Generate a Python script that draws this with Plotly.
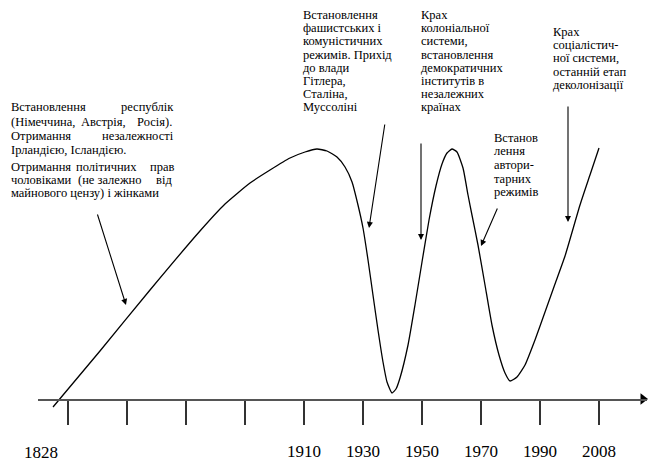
import plotly.graph_objects as go

# ---------------- data ----------------
tick_positions = [0, 1, 2, 3, 4, 5, 6, 7, 8, 9]
tick_labels = ["", "", "", "", "1910", "1930", "1950", "1970", "1990", "2008"]
start_label = "1828"

# curve: x in tick units along the time axis, y = "level" (axis = 0, peaks = 250)
curve_x = [-0.254, 0.542, 1.390, 2.237, 2.661, 3.085, 3.424, 3.763,
           4.017, 4.220, 4.390, 4.559, 4.695, 4.814, 4.915, 5.000, 5.085, 5.169,
           5.254, 5.339, 5.407, 5.492, 5.559, 5.627, 5.763, 5.881, 6.000, 6.119,
           6.237, 6.339, 6.424, 6.508, 6.593, 6.695, 6.780, 6.847, 6.949, 7.068,
           7.186, 7.305, 7.407, 7.492, 7.610, 7.746, 7.915, 8.085, 8.254, 8.424,
           8.678, 8.847, 9.000]
curve_y = [-8, 48, 109, 168, 195, 216, 229, 241,
           247, 250, 248, 242, 232, 217, 194, 171, 139, 104,
           69, 37, 17, 6, 10, 21, 54, 94, 137, 179,
           213, 235, 246, 250, 247, 231, 204, 184, 154, 114,
           74, 44, 26, 18, 22, 34, 59, 87, 115, 143,
           194, 224, 251]

block_fascism = ["Встановлення", "фашистських і", "комуністичних", "режимів. Прихід",
                 "до влади", "Гітлера,", "Сталіна,", "Муссоліні"]
block_colonial = ["Крах", "колоніальної", "системи,", "встановлення", "демократичних",
                  "інститутів в", "незалежних", "країнах"]
block_social = ["Крах", "соціалістич-", "ної системи,", "останній етап", "деколонізації"]
block_author = ["Встанов", "лення", "автори-", "тарних", "режимів"]
# justified left paragraph: (word group, pixel x, anchor)
block_left = [
    [("Встановлення", 10, "left"), ("республік", 175, "right")],
    [("(Німеччина,", 10, "left"), ("Австрія,", 103, "center"), ("Росія).", 173, "right")],
    [("Отримання", 10, "left"), ("незалежності", 175, "right")],
    [("Ірландією, Ісландією.", 10, "left")],
    [("Отримання", 10, "left"), ("політичних", 106, "center"), ("прав", 175, "right")],
    [("чоловіками", 10, "left"), ("(не залежно", 109, "center"), ("від", 173, "right")],
    [("майнового цензу) і жінками", 10, "left")],
]

# ---------------- layout helpers (pixel -> data / paper) ----------------
W, H = 649, 464
X0PX, DXPX = 68, 59          # pixel of first tick, pixels per tick
AXPX = 399                   # pixel row of the time axis
ML, MR = 38, 2
PW = W - ML - MR
xr = [(ML - X0PX) / DXPX, (W - MR - X0PX) / DXPX]
yr = [AXPX - H, AXPX]


def px2x(px):
    return (px - X0PX) / DXPX


def py2y(py):
    return AXPX - py


def px2paper(px):
    return (px - ML) / PW


def py2paper(py):
    return (H - py) / H


FONT = "Liberation Serif, Times New Roman, serif"
TFS = 12.5

fig = go.Figure()
fig.add_trace(go.Scatter(x=curve_x, y=curve_y, mode="lines",
                         line=dict(color="black", width=1.3, shape="spline", smoothing=0.5),
                         hoverinfo="skip", showlegend=False))
# arrow head closing the time axis
fig.add_trace(go.Scatter(x=[px2x(643)], y=[0], mode="markers", cliponaxis=False,
                         marker=dict(symbol="triangle-right", size=10, color="black"),
                         hoverinfo="skip", showlegend=False))

ann = []


def text(t, px, py, anchor="left", size=TFS):
    ann.append(dict(x=px2paper(px), y=py2paper(py), xref="paper", yref="paper", text=t,
                    showarrow=False, xanchor=anchor, yanchor="middle", borderpad=0,
                    font=dict(family=FONT, size=size, color="black")))


for i, t in enumerate(block_fascism):
    text(t, 302, 15 + 13.2 * i)
for i, t in enumerate(block_colonial):
    text(t, 420, 15 + 13.2 * i)
for i, t in enumerate(block_social):
    text(t, 552, 32 + 13.2 * i)
for i, t in enumerate(block_author):
    text(t, 493, 138 + 13.5 * i)
left_rows = [107, 122, 136, 150, 167, 180, 193]
for row, py in zip(block_left, left_rows):
    for word, px, anchor in row:
        text(word, px, py, anchor)


def arrow(tail, tip):
    ann.append(dict(x=px2x(tip[0]), y=py2y(tip[1]), ax=px2x(tail[0]), ay=py2y(tail[1]),
                    xref="x", yref="y", axref="x", ayref="y", text="", showarrow=True,
                    arrowhead=2, arrowsize=1.1, arrowwidth=1.1, arrowcolor="black"))


arrow((97, 213), (126, 305))
arrow((385, 123), (369, 228))
arrow((421, 142), (421, 240))
arrow((498, 207), (481, 246))
arrow((568, 105), (568, 222))

# first year label (sits left of its tick)
text(start_label, 41, 452, "center", 17)

fig.update_layout(
    width=W, height=H, margin=dict(l=ML, r=MR, t=0, b=0),
    paper_bgcolor="white", plot_bgcolor="white",
    annotations=ann, showlegend=False, hovermode=False,
    xaxis=dict(range=xr, tickvals=tick_positions, ticktext=tick_labels,
               ticks="outside", ticklen=24, tickwidth=1.3, tickcolor="#333",
               showline=True, linecolor="#555", linewidth=1.6,
               anchor="free", position=(H - AXPX) / H,
               showgrid=False, zeroline=False, ticklabelstandoff=12,
               tickfont=dict(family=FONT, size=17, color="black")),
    yaxis=dict(range=yr, visible=False, showgrid=False, zeroline=False),
)

fig.write_html("out.html", config={"displayModeBar": False, "staticPlot": True},
               post_script="document.body.style.margin='0px';document.body.style.overflow='hidden';")
